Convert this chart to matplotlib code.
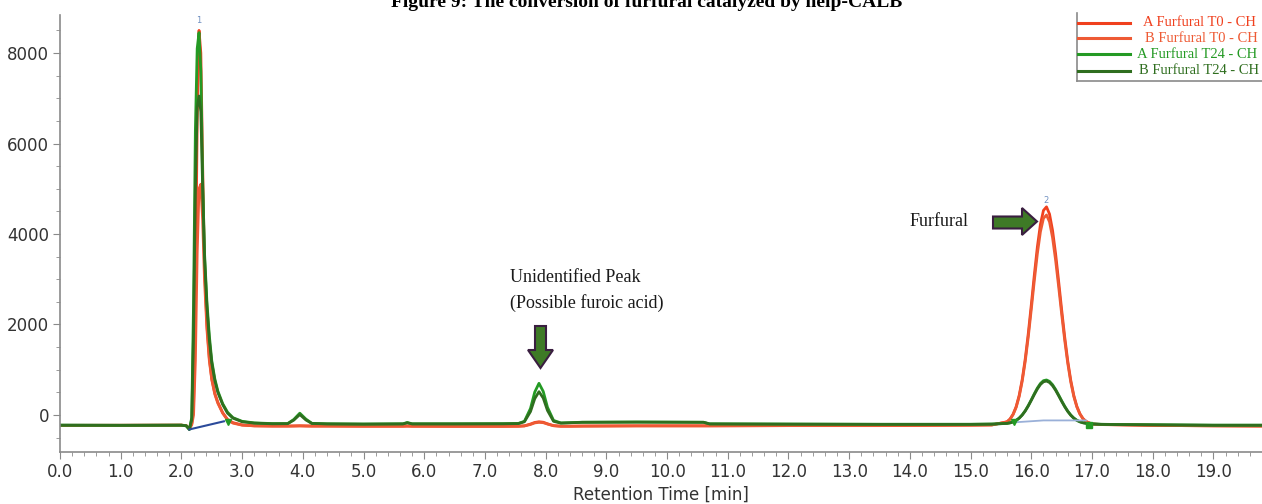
import matplotlib
matplotlib.use('Agg')
import matplotlib.pyplot as plt
from matplotlib.lines import Line2D
from matplotlib.patches import Polygon
from matplotlib.ticker import MultipleLocator

# retention time grid [min] shared by all four traces
t_min = [0.0, 1.0, 2.0, 2.08, 2.13, 2.17, 2.20, 2.23, 2.26, 2.29, 2.32, 2.35, 2.38,
         2.42, 2.46, 2.50, 2.55, 2.60, 2.68, 2.76, 2.85, 3.0, 3.2, 3.5,
         3.75, 3.85, 3.95, 4.05, 4.15, 4.4, 5.0, 5.65, 5.72, 5.8, 6.5, 7.3,
         7.55, 7.65, 7.75, 7.82, 7.89, 7.96, 8.03, 8.13, 8.25, 8.4, 8.6, 9.5,
         10.6, 10.7, 12.0, 13.5, 15.0, 15.35,
         15.6, 15.65, 15.7, 15.75, 15.8, 15.85, 15.9, 15.95, 16.0, 16.05,
         16.1, 16.15, 16.2, 16.25, 16.3, 16.35, 16.4, 16.45, 16.5, 16.55,
         16.6, 16.65, 16.7, 16.75, 16.8, 16.85, 16.9, 17.0, 17.15, 17.4,
         18.0, 19.0, 19.8]

a_t0 = [-230, -228, -225, -235, -300, -200, 200, 2500, 6500, 8500, 8000, 5500, 3300,
        2000, 1250, 800, 480, 280, 50, -100, -170, -220, -240, -245,
        -245, -243, -240, -243, -245, -245, -248, -248, -245, -248, -250, -250,
        -248, -240, -200, -165, -150, -160, -195, -235, -248, -248, -245, -240,
        -240, -240, -235, -235, -225, -220,
        -150, -88, 18, 183, 432, 783, 1241, 1802, 2439, 3100,
        3717, 4214, 4521, 4600, 4440, 4078, 3564, 2957, 2324, 1724,
        1196, 764, 432, 192, 29, -77, -142, -200, -210, -215,
        -230, -240, -245]

b_t0 = [-230, -228, -225, -235, -300, -220, 0, 1200, 3600, 5000, 5100, 4300, 3000,
        1900, 1200, 780, 460, 260, 40, -110, -180, -225, -240, -245,
        -245, -243, -240, -243, -245, -245, -248, -248, -245, -248, -250, -250,
        -248, -242, -210, -175, -162, -170, -200, -238, -248, -248, -245, -240,
        -240, -240, -235, -235, -225, -220,
        -153, -93, 9, 168, 408, 746, 1187, 1727, 2341, 2977,
        3571, 4050, 4346, 4420, 4268, 3919, 3424, 2839, 2230, 1652,
        1144, 728, 408, 177, 20, -82, -145, -201, -212, -218,
        -230, -240, -245]

a_t24 = [-225, -228, -225, -240, -320, -60, 2500, 6300, 8100, 8450, 7600, 5200, 3600,
         2500, 1750, 1200, 800, 530, 250, 60, -60, -140, -175, -190,
         -190, -100, 40, -90, -185, -195, -200, -195, -165, -195, -195, -192,
         -187, -140, 144, 505, 700, 520, 170, -120, -175, -170, -160, -155,
         -160, -195, -200, -205, -205, -200,
         -186, -173, -152, -119, -68, 3, 95, 209, 337, 471,
         596, 696, 758, 774, 742, 669, 565, 442, 314, 193,
         86, -1, -68, -117, -150, -171, -184, -196, -205, -210,
         -215, -225, -225]

b_t24 = [-225, -228, -225, -240, -320, -100, 1800, 5000, 6800, 7050, 6700, 5000, 3500,
         2400, 1650, 1150, 760, 500, 230, 40, -70, -150, -180, -195,
         -192, -115, 10, -110, -188, -197, -202, -197, -175, -197, -197, -195,
         -190, -150, 75, 360, 515, 375, 100, -140, -180, -172, -162, -158,
         -162, -198, -203, -207, -207, -202,
         -186, -174, -153, -121, -71, -2, 88, 199, 324, 454,
         576, 674, 734, 750, 718, 647, 546, 426, 301, 183,
         79, -6, -71, -119, -151, -172, -184, -197, -207, -212,
         -217, -227, -227]

# integration baselines drawn by the CDS software
base1_t = [2.13, 2.70]
base1_v = [-320, -140]
base2_t = [15.75, 16.2, 16.9]
base2_v = [-160, -120, -120]

# legend labels as far as they are visible in the source
series_names = ['A Furfural T0 - CH', 'B Furfural T0 - CH',
                'A Furfural T24 - CH', 'B Furfural T24 - CH']
series_colors = ['#F0401E', '#EE5A34', '#249A24', '#2F6E1F']

W, H = 1262, 504


def px(x, y):
    # pixel position (from top-left) -> figure fraction
    return x / W, 1 - y / H


fig = plt.figure(figsize=(W / 100, H / 100), dpi=100)
ax = fig.add_axes([60 / W, 52 / H, 1202 / W, 437 / H])

for vals, c in zip([a_t0, b_t0, a_t24, b_t24], series_colors):
    ax.plot(t_min, vals, color=c, lw=2.0, solid_joinstyle='round')

ax.plot(base1_t, base1_v, color='#2B4A9A', lw=1.5)
ax.plot(base2_t, base2_v, color='#9AB0D8', lw=1.3)
ax.plot([2.76, 15.72], [-150, -150], ls='none', marker='v', ms=5, color='#249A24')
ax.plot([16.95], [-212], ls='none', marker='s', ms=4, color='#249A24')
ax.text(2.28, 8620, '1', color='#6F8FC0', fontsize=6, ha='center', va='bottom')
ax.text(16.24, 4650, '2', color='#6F8FC0', fontsize=6, ha='center', va='bottom')

ax.set_xlim(0, 19.8)
ax.set_ylim(-818, 8840)
ax.xaxis.set_major_locator(MultipleLocator(1))
ax.xaxis.set_minor_locator(MultipleLocator(0.2))
ax.yaxis.set_major_locator(MultipleLocator(2000))
ax.yaxis.set_minor_locator(MultipleLocator(500))
ax.xaxis.set_major_formatter(lambda v, p: f'{v:.1f}')
ax.yaxis.set_major_formatter(lambda v, p: f'{v:.0f}')

for s in ['top', 'right']:
    ax.spines[s].set_visible(False)
for s in ['left', 'bottom']:
    ax.spines[s].set_color('#8a8a8a')
    ax.spines[s].set_linewidth(1.2)
ax.tick_params(which='major', length=5, color='#8a8a8a', labelsize=12,
               labelcolor='#333333', pad=3)
ax.tick_params(which='minor', length=3, color='#8a8a8a')
ax.set_xlabel('Retention Time [min]', fontsize=12, color='#333333', labelpad=3)

# caption above the chart, cut off at the top edge as in the source figure
fig.text(0.512, 1 - 7 / H, 'Figure 9: The conversion of furfural catalyzed by nelp-CALB',
         family='Liberation Serif', fontsize=14, weight='bold', ha='center',
         va='baseline')

# legend drawn by the instrument software
fig.lines.append(Line2D([px(1077, 0)[0]] * 2, [px(0, 13)[1], px(0, 81)[1]],
                        transform=fig.transFigure, color='#8a8a8a', lw=1.2))
fig.lines.append(Line2D([px(1077, 0)[0], 1.0], [px(0, 81)[1]] * 2,
                        transform=fig.transFigure, color='#8a8a8a', lw=1.2))
rows_y = [22.5, 38, 54, 70.5]
text_x = [1143, 1145, 1137, 1139]
for name, c, ry, tx in zip(series_names, series_colors, rows_y, text_x):
    fig.lines.append(Line2D([px(1078, 0)[0], px(1130, 0)[0]], [px(0, ry)[1]] * 2,
                            transform=fig.transFigure, color=c, lw=2.2))
    fig.text(*px(tx, ry), name, color=c, family='Liberation Serif', fontsize=10.5,
             ha='left', va='center')

# annotation arrows
arrow_fill = '#3E7A26'
arrow_edge = '#3A1E40'
right_arrow = [(993, 216.5), (1022, 216.5), (1022, 208), (1037, 221.5),
               (1022, 235), (1022, 228.5), (993, 228.5)]
down_arrow = [(535, 326), (546, 326), (546, 350), (553, 350), (540.5, 368),
              (528, 350), (535, 350)]
for pts in [right_arrow, down_arrow]:
    fig.patches.append(Polygon([px(x, y) for x, y in pts], closed=True,
                               transform=fig.transFigure, facecolor=arrow_fill,
                               edgecolor=arrow_edge, lw=1.5))

fig.text(*px(910, 222), 'Furfural', family='Liberation Serif', fontsize=13,
         color='#1a1a1a', ha='left', va='center')
fig.text(*px(510, 278), 'Unidentified Peak', family='Liberation Serif', fontsize=13,
         color='#1a1a1a', ha='left', va='center')
fig.text(*px(510, 303), '(Possible furoic acid)', family='Liberation Serif', fontsize=13,
         color='#1a1a1a', ha='left', va='center')

fig.savefig('out.png', dpi=100)
